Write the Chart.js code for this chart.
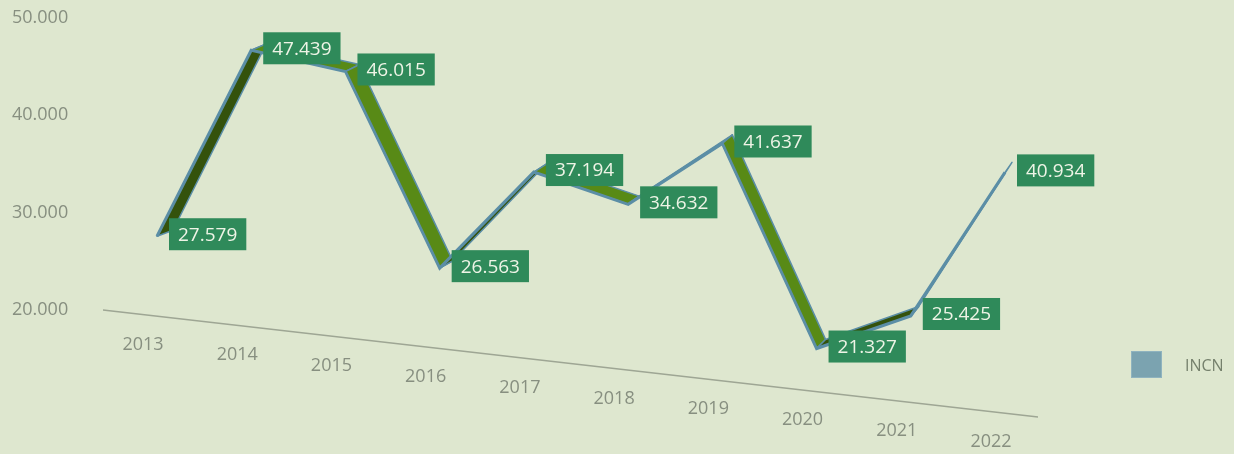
<!DOCTYPE html>
<html>
<head>
<meta charset="utf-8">
<script src="https://cdn.jsdelivr.net/npm/chart.js@4.4.1/dist/chart.umd.min.js"></script>
<style>
  html, body { margin: 0; padding: 0; background: #dee7cf; }
  #wrap { width: 1234px; height: 454px; position: relative; }
</style>
</head>
<body>
<div id="wrap"><canvas id="chart"></canvas></div>
<script>
// Data
const years = ["2013", "2014", "2015", "2016", "2017", "2018", "2019", "2020", "2021", "2022"];
const incn = [27579, 47439, 46015, 26563, 37194, 34632, 41637, 21327, 25425, 40934];
const seriesName = "INCN";
const yMin = 20000;
const yMax = 50000;
const yStep = 10000;

// 3D look: the series ribbon and the floor slope away from the viewer
const SHEAR = 0.078;
const FLOOR_SLOPE = 0.1144;

const BG = "#dee7cf";
const EDGE = "#5b8ea6";
const LEGEND_BLUE = "#7ba3b0";
const AXIS_TEXT = "#878f80";
const LABEL_BOX = "#2f8a5a";

// German style thousands separator, e.g. 47.439
const fmt = (v) => Math.round(v).toString().replace(/\B(?=(\d{3})+(?!\d))/g, ".");

const ribbon3d = {
  id: "ribbon3d",
  beforeDraw(chart) {
    const { ctx, width, height } = chart;
    ctx.save();
    ctx.fillStyle = BG;
    ctx.fillRect(0, 0, width, height);
    ctx.restore();
  },
  beforeDatasetsDraw(chart) {
    const { ctx, chartArea } = chart;
    const x0 = chartArea.left;
    const span = chartArea.right - chartArea.left;
    const pts = chart.getDatasetMeta(0).data.map((p) => ({ x: p.x, y: p.y + SHEAR * (p.x - x0) }));
    const depth = (x) => {
      const t = (x - x0) / span;
      return { dx: 16 - 9 * t, dy: -6 - 4 * t };
    };

    // ribbon faces, one quad per segment
    ctx.save();
    ctx.lineJoin = "round";
    for (let i = 0; i < pts.length - 1; i++) {
      const a = pts[i], b = pts[i + 1];
      const da = depth(a.x), db = depth(b.x);
      ctx.beginPath();
      ctx.moveTo(a.x, a.y);
      ctx.lineTo(b.x, b.y);
      ctx.lineTo(b.x + db.dx, b.y + db.dy);
      ctx.lineTo(a.x + da.dx, a.y + da.dy);
      ctx.closePath();
      ctx.fillStyle = b.y < a.y ? "#34520c" : "#588a16";
      ctx.fill();
      ctx.lineWidth = 1.5;
      ctx.strokeStyle = EDGE;
      ctx.stroke();
    }
    ctx.restore();

    // the line itself is drawn by Chart.js under the same shear
    ctx.save();
    ctx.transform(1, SHEAR, 0, 1, 0, -SHEAR * x0);
  },
  afterDatasetsDraw(chart) {
    const { ctx, chartArea, scales } = chart;
    ctx.restore();
    const x0 = chartArea.left;

    // floor line
    const fx1 = chartArea.left - 54;
    const fx2 = chartArea.right + 33;
    const fy = scales.y.getPixelForValue(yMin);
    ctx.save();
    ctx.strokeStyle = "#9ea694";
    ctx.lineWidth = 1.5;
    ctx.beginPath();
    ctx.moveTo(fx1, fy);
    ctx.lineTo(fx2, fy + FLOOR_SLOPE * (fx2 - fx1));
    ctx.stroke();

    // category labels along the floor
    ctx.font = "18px 'Open Sans'";
    ctx.fillStyle = AXIS_TEXT;
    ctx.textAlign = "center";
    ctx.textBaseline = "middle";
    years.forEach((yr, i) => {
      const x = scales.x.getPixelForValue(i) - 14;
      const y = fy + FLOOR_SLOPE * (x - fx1) + 30;
      ctx.fillText(yr, x, y);
    });

    // value labels in green boxes
    ctx.font = "19px 'Open Sans'";
    const meta = chart.getDatasetMeta(0);
    meta.data.forEach((p, i) => {
      const px = p.x;
      const py = p.y + SHEAR * (p.x - x0);
      const txt = fmt(incn[i]);
      const w = ctx.measureText(txt).width + 18;
      const h = 32;
      const bx = px + 12;
      const by = py - 2 - h / 2;
      ctx.fillStyle = LABEL_BOX;
      ctx.fillRect(bx, by, w, h);
      ctx.fillStyle = "#eef4e6";
      ctx.textAlign = "center";
      ctx.fillText(txt, bx + w / 2, by + h / 2 + 1);
    });

    // legend
    const lx = chartArea.right + 126;
    const ly = 351;
    ctx.fillStyle = LEGEND_BLUE;
    ctx.fillRect(lx, ly, 31, 27);
    ctx.strokeStyle = "#8fb3bf";
    ctx.lineWidth = 1;
    ctx.strokeRect(lx + 0.5, ly + 0.5, 30, 26);
    ctx.font = "16px 'Open Sans'";
    ctx.fillStyle = "#75806c";
    ctx.textAlign = "left";
    ctx.fillText(chart.data.datasets[0].label, lx + 54, ly + 15);
    ctx.restore();
  },
};

new Chart(document.getElementById("chart"), {
  type: "line",
  data: {
    labels: years,
    datasets: [
      {
        label: seriesName,
        data: incn,
        borderColor: EDGE,
        borderWidth: 3,
        pointRadius: 0,
        tension: 0,
        fill: false,
        clip: false,
      },
    ],
  },
  options: {
    responsive: true,
    maintainAspectRatio: false,
    animation: false,
    layout: { padding: { left: 12, right: 229, top: 18, bottom: 144 } },
    plugins: {
      legend: { display: false },
      tooltip: { enabled: false },
    },
    scales: {
      x: {
        display: false,
        offset: false,
      },
      y: {
        min: yMin,
        max: yMax,
        border: { display: false },
        grid: { display: false },
        afterFit: (s) => { s.width = 145; },
        ticks: {
          stepSize: yStep,
          crossAlign: "far",
          color: AXIS_TEXT,
          font: { family: "Open Sans", size: 18 },
          callback: (v) => fmt(v),
        },
      },
    },
  },
  plugins: [ribbon3d],
});
</script>
</body>
</html>
